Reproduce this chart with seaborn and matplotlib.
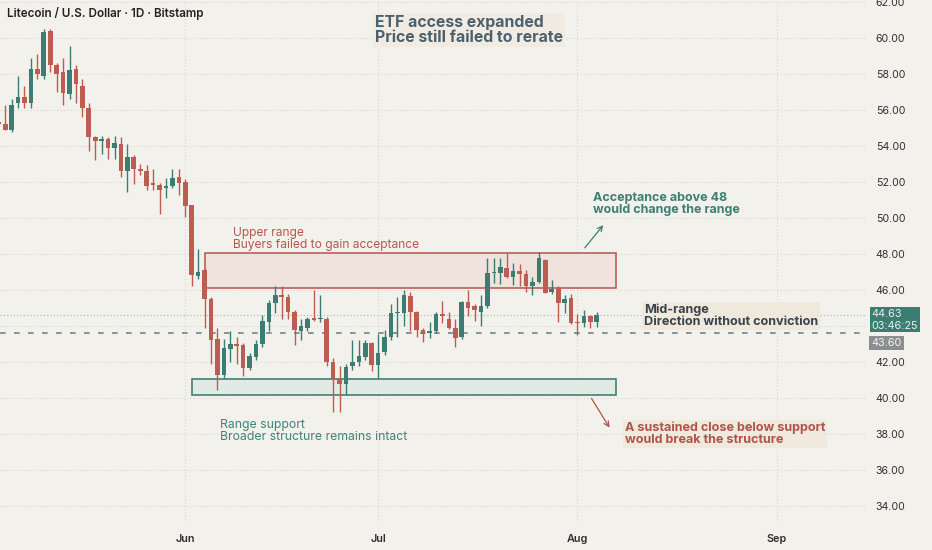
import numpy as np
import pandas as pd
import matplotlib
matplotlib.use("Agg")
import matplotlib.pyplot as plt
import matplotlib.dates as mdates
from matplotlib.patches import Rectangle
from matplotlib.transforms import blended_transform_factory
import seaborn as sns

# ---------------- data ----------------
start_date = "2025-05-03"
opens = [55.30, 55.25, 54.90, 56.40, 56.70, 56.40, 58.30, 57.90, 60.40, 58.50,
         58.10, 56.90, 58.30, 57.35, 56.10, 54.50, 54.30, 54.40, 53.90, 54.10,
         52.60, 53.40, 52.70, 52.60, 51.90, 51.85, 51.65, 51.80, 52.30, 52.00,
         50.70, 46.80, 47.10, 45.50, 43.30, 41.30, 42.75, 43.00, 42.95, 41.65,
         42.30, 43.00, 44.25, 45.30, 45.70, 45.60, 44.80, 43.70, 43.90, 44.45,
         44.40, 44.40, 42.00, 41.05, 40.80, 41.80, 42.00, 42.30, 43.05, 41.85,
         42.55, 43.40, 44.70, 44.74, 45.67, 44.80, 43.80, 43.60, 43.70, 44.67,
         44.40, 43.90, 43.40, 45.35, 45.10, 44.80, 45.10, 46.95, 46.94, 47.20,
         46.74, 47.05, 46.87, 46.22, 46.46, 47.67, 45.90, 46.10, 45.30, 45.54,
         44.24, 44.15, 44.55, 44.20]
highs = [55.40, 56.30, 56.60, 57.90, 57.35, 58.90, 59.10, 60.50, 60.50, 58.60,
         58.90, 59.55, 58.50, 57.70, 56.40, 54.55, 54.55, 54.50, 54.55, 54.50,
         54.10, 53.50, 53.00, 52.95, 52.70, 51.95, 52.20, 52.70, 52.70, 52.15,
         50.70, 48.30, 47.20, 45.60, 43.90, 43.30, 43.70, 43.40, 43.05, 42.50,
         43.20, 44.60, 45.45, 46.20, 46.24, 45.80, 44.90, 44.40, 44.50, 46.00,
         45.70, 44.50, 42.20, 41.80, 41.90, 43.20, 43.25, 43.25, 43.10, 43.55,
         43.80, 45.25, 45.60, 46.00, 45.90, 44.85, 43.90, 44.20, 44.80, 45.40,
         44.80, 44.40, 45.40, 46.00, 45.25, 45.70, 47.80, 47.76, 47.80, 48.04,
         47.50, 47.44, 47.10, 46.70, 48.13, 47.70, 46.55, 46.20, 45.70, 45.76,
         44.67, 44.90, 44.60, 44.80]
lows = [55.20, 54.90, 54.80, 56.10, 56.10, 56.10, 57.70, 57.70, 58.10, 57.00,
        56.30, 56.60, 56.40, 55.60, 53.70, 53.20, 53.55, 53.30, 53.30, 52.30,
        51.45, 51.90, 52.40, 51.55, 51.55, 50.25, 51.10, 51.65, 51.30, 50.04,
        46.20, 46.60, 43.90, 41.90, 40.45, 41.10, 42.00, 41.90, 41.20, 41.55,
        42.10, 42.85, 43.70, 44.70, 44.40, 44.40, 42.95, 43.20, 43.70, 44.30,
        44.20, 41.80, 39.25, 39.25, 40.15, 41.55, 41.80, 42.10, 41.50, 41.10,
        42.40, 43.20, 43.40, 44.00, 43.70, 43.40, 43.10, 43.35, 43.60, 44.15,
        43.85, 42.85, 43.30, 44.55, 44.30, 44.00, 45.00, 46.40, 46.33, 46.65,
        46.30, 46.20, 45.90, 45.70, 46.40, 45.85, 45.80, 44.24, 44.74, 44.10,
        43.50, 43.96, 43.90, 43.96]
closes = [55.25, 54.90, 56.30, 56.70, 56.40, 58.30, 58.00, 60.35, 58.50, 58.00,
          56.96, 58.20, 57.45, 56.10, 54.50, 54.30, 54.40, 53.90, 54.15, 52.60,
          53.40, 52.70, 52.60, 51.80, 51.85, 51.55, 51.80, 52.25, 51.95, 50.65,
          46.83, 47.00, 45.50, 43.20, 41.30, 42.80, 43.00, 42.90, 41.65, 42.33,
          43.00, 44.30, 45.30, 45.75, 45.60, 44.80, 43.80, 44.00, 44.40, 44.35,
          44.45, 42.00, 41.05, 40.80, 41.75, 42.00, 42.35, 43.05, 41.85, 42.50,
          43.40, 44.74, 44.80, 45.72, 44.80, 43.80, 43.55, 43.70, 44.67, 44.57,
          43.90, 43.35, 45.35, 45.00, 44.90, 45.10, 46.95, 47.00, 47.30, 46.74,
          47.07, 46.87, 46.24, 46.46, 47.76, 45.85, 46.05, 45.30, 45.48, 44.15,
          44.15, 44.55, 44.20, 44.63]

upper_zone = (46.10, 48.05)
upper_zone_dates = ("2025-06-04", "2025-08-07")
support_zone = (40.15, 41.05)
support_zone_dates = ("2025-06-02", "2025-08-07")
ref_level = 43.60
countdown = "03:46:25"
y_ticks = list(range(34, 64, 2))
hidden_tick = 44   # covered by the live price tag on the scale

# ---------------- style ----------------
BG = "#f3f1ec"
GREEN = "#3b7d72"
RED = "#bd5d51"
GRID = "#d9d6cf"

sns.set_theme(style="white", rc={"axes.facecolor": BG, "figure.facecolor": BG})
plt.rcParams["font.family"] = ["Inter", "DejaVu Sans"]

dates = pd.date_range(start_date, periods=len(closes), freq="D")
df = pd.DataFrame({"date": dates, "open": opens, "high": highs,
                   "low": lows, "close": closes})
df["up"] = df["close"] >= df["open"]
df["color"] = np.where(df["up"], GREEN, RED)
df["bottom"] = df[["open", "close"]].min(axis=1)
df["height"] = (df["close"] - df["open"]).abs().clip(lower=0.07)

fig = plt.figure(figsize=(9.32, 5.5), dpi=100)
ax = fig.add_axes([0, 1 - 523 / 550, 866 / 932, 523 / 550])
ax.set_facecolor(BG)

# zones
for (lo, hi), (d0, d1), ec, fc in [
    (upper_zone, upper_zone_dates, "#bb5f55", "#f0e2dd"),
    (support_zone, support_zone_dates, "#3f8177", "#e2eae5"),
]:
    x0 = mdates.date2num(pd.Timestamp(d0))
    x1 = mdates.date2num(pd.Timestamp(d1))
    ax.add_patch(Rectangle((x0, lo), x1 - x0, hi - lo, facecolor=fc,
                           edgecolor=ec, linewidth=1.2, zorder=1))

# grid
for yv in y_ticks:
    ax.axhline(yv, color=GRID, lw=0.8, ls=(0, (1, 2)), zorder=0)
for m in ["2025-06-01", "2025-07-01", "2025-08-01", "2025-09-01"]:
    ax.axvline(pd.Timestamp(m), color=GRID, lw=0.8, ls=(0, (1, 2)), zorder=0)

# reference lines
ax.axhline(ref_level, color="#6f8587", lw=1.2, ls=(0, (3.4, 5.0)), zorder=2)
ax.axhline(closes[-1], color="#9fb8b2", lw=0.8, ls=(0, (1, 2)), zorder=2)

# candles
ax.vlines(df["date"], df["low"], df["high"], colors=df["color"], lw=1.0, zorder=3)
ax.bar(df["date"], df["height"], bottom=df["bottom"], width=0.72,
       color=df["color"], linewidth=0, zorder=4)

# axes limits & ticks
xstart = mdates.date2num(dates[0]) + 0.19
ax.set_xlim(xstart, xstart + 866 / 6.43)
ax.set_ylim(60 - (523 - 38) / 18, 60 + 38 / 18)
ax.yaxis.tick_right()
ax.set_yticks(y_ticks)
ax.yaxis.set_major_formatter(matplotlib.ticker.FuncFormatter(
    lambda v, p: "" if abs(v - hidden_tick) < 1e-6 else f"{v:.2f}"))
ax.xaxis.set_major_locator(mdates.MonthLocator())
ax.xaxis.set_major_formatter(mdates.DateFormatter("%b"))
ax.tick_params(axis="y", length=0, pad=7, labelsize=7.6, labelcolor="#2e2e2e")
ax.tick_params(axis="x", length=0, pad=8, labelsize=7.8, labelcolor="#2e2e2e")
for lab in ax.get_xticklabels():
    lab.set_fontweight("semibold")
for s in ax.spines.values():
    s.set_visible(False)
ax.grid(False)

def axpos(px, py):
    return (px / 866, 1 - py / 523)

# title
fig.text(7 / 932, 1 - 14 / 550, "Litecoin / U.S. Dollar · 1D · Bitstamp",
         fontsize=8.4, fontweight="semibold", color="#222222", va="center")

# annotations
ax.text(*axpos(375, 30), "ETF access expanded\nPrice still failed to rerate",
        transform=ax.transAxes, fontsize=11.4, fontweight="bold", color="#4a6170",
        va="center", ha="left", linespacing=1.0,
        bbox=dict(boxstyle="square,pad=0.15", fc="#f1ebe2", ec="none"))
ax.text(*axpos(233, 239), "Upper range\nBuyers failed to gain acceptance",
        transform=ax.transAxes, fontsize=8.7, color="#b5584e",
        va="center", ha="left", linespacing=1.02)
ax.text(*axpos(220, 431), "Range support\nBroader structure remains intact",
        transform=ax.transAxes, fontsize=8.8, color="#3f8479",
        va="center", ha="left", linespacing=1.0)
ax.text(*axpos(593, 204), "Acceptance above 48\nwould change the range",
        transform=ax.transAxes, fontsize=9.0, fontweight="bold", color="#3b7f75",
        va="center", ha="left", linespacing=0.95)
ax.text(*axpos(644, 316), "Mid-range\nDirection without conviction",
        transform=ax.transAxes, fontsize=9.1, fontweight="bold", color="#37434e",
        va="center", ha="left", linespacing=0.95,
        bbox=dict(boxstyle="square,pad=0.12", fc="#efe9dd", ec="none"))
ax.text(*axpos(625, 434), "A sustained close below support\nwould break the structure",
        transform=ax.transAxes, fontsize=9.1, fontweight="bold", color="#b0544a",
        va="center", ha="left", linespacing=0.95,
        bbox=dict(boxstyle="square,pad=0.12", fc="#f0e9de", ec="none"))

ax.annotate("", xy=axpos(605, 223), xytext=axpos(583, 250),
            xycoords="axes fraction", textcoords="axes fraction",
            arrowprops=dict(arrowstyle="->", color="#3b7f75", lw=0.9,
                            mutation_scale=9))
ax.annotate("", xy=axpos(611, 430), xytext=axpos(590, 396),
            xycoords="axes fraction", textcoords="axes fraction",
            arrowprops=dict(arrowstyle="->", color="#b0544a", lw=0.9,
                            mutation_scale=9))

# price tags on the right scale
tr = blended_transform_factory(ax.transAxes, ax.transData)
ax.annotate(f"{closes[-1]:.2f}\n{countdown}", xy=(1.0, closes[-1]), xycoords=tr,
            xytext=(4, 4.1), textcoords="offset points",
            fontsize=7.8, color="#e9f1ef", va="top", ha="left", linespacing=1.2,
            annotation_clip=False,
            bbox=dict(boxstyle="square,pad=0.15", fc=GREEN, ec="none"))
ax.annotate(f"{ref_level:.2f}", xy=(1.0, ref_level), xycoords=tr,
            xytext=(4, -7.0), textcoords="offset points",
            fontsize=7.8, color="#f4f4f4", va="center", ha="left",
            annotation_clip=False,
            bbox=dict(boxstyle="square,pad=0.22", fc="#8c8e90", ec="none"))

fig.savefig("out.png", dpi=100, facecolor=BG)
